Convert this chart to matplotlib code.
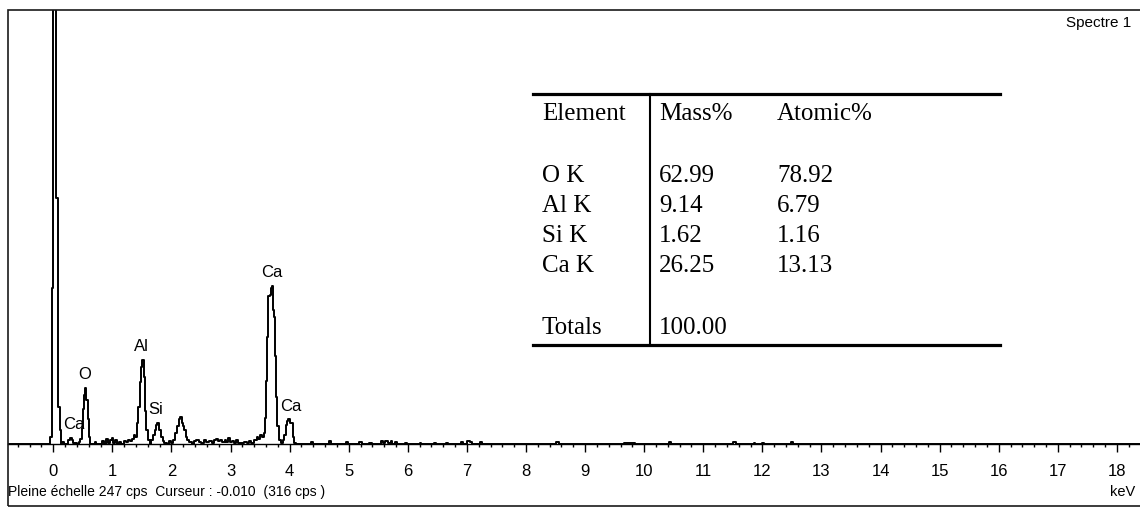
import numpy as np
import matplotlib
matplotlib.use('Agg')
from matplotlib import pyplot as plt
from matplotlib.lines import Line2D
from matplotlib.patches import Rectangle
from matplotlib.ticker import MultipleLocator

# spectrum vertices (keV, cps), drawn as a step trace
energy_kev = [-0.775, -0.06, -0.03, -0.01, 0.045, 0.085, 0.11, 0.13,
              0.15, 0.18, 0.25, 0.28, 0.32, 0.34, 0.40, 0.43, 0.46,
              0.48, 0.50, 0.52, 0.54, 0.56, 0.58, 0.60, 0.62,
              0.70, 0.73, 0.82, 0.85, 0.90, 0.92, 0.96, 0.99, 1.01, 1.04, 1.07,
              1.12, 1.15, 1.20, 1.23, 1.27, 1.30, 1.33, 1.36, 1.39,
              1.41, 1.43, 1.46, 1.48, 1.50, 1.53, 1.55, 1.57, 1.60, 1.63,
              1.66, 1.69, 1.72, 1.74, 1.76, 1.79, 1.82, 1.85, 1.88, 1.92, 1.96, 1.99,
              2.03, 2.06, 2.09, 2.12, 2.15, 2.17, 2.19, 2.21, 2.24, 2.27, 2.30, 2.34,
              2.38, 2.42, 2.46, 2.50, 2.55, 2.58, 2.63, 2.68, 2.72, 2.75, 2.78,
              2.82, 2.86, 2.90, 2.93, 2.96, 2.99, 3.02, 3.06, 3.10, 3.13, 3.18,
              3.22, 3.27, 3.31, 3.35, 3.40, 3.44, 3.47, 3.50, 3.53,
              3.56, 3.58, 3.60, 3.62, 3.64, 3.66, 3.69, 3.70, 3.71, 3.73, 3.75,
              3.77, 3.79, 3.82, 3.86, 3.89,
              3.91, 3.93, 3.95, 3.98, 4.00, 4.03, 4.05, 4.08, 4.11,
              4.36, 4.39, 4.67, 4.70, 4.95, 4.98, 5.18, 5.22, 5.35, 5.40,
              5.55, 5.58, 5.62, 5.66, 5.71, 5.74, 5.78, 5.81, 5.95, 5.98,
              6.20, 6.23, 6.45, 6.48, 6.65, 6.68, 6.90, 6.93, 7.00, 7.06, 7.09,
              7.22, 7.26, 8.50, 8.56, 9.66, 9.85, 10.42, 10.46, 11.50, 11.55,
              11.85, 11.88, 12.00, 12.03, 12.48, 12.52, 18.39]
counts_cps = [0, 4, 89, 316, 140, 21, 8, 0,
              1.3, 0, 2, 3.4, 2, 0.8, 0, 1.2, 3,
              9, 20, 28, 32, 25, 14, 4, 0,
              1.2, 0, 1.5, 0, 3, 0.8, 2, 3.4, 0.8, 2.3, 0,
              1, 0, 1.5, 1, 2.3, 1.5, 3, 5, 4,
              12, 21, 35, 44, 48, 38, 19, 8, 2, 0,
              2, 5, 8, 11, 12, 8, 4, 1.5, 0.5, 0, 1.5, 0.5,
              2.3, 6, 10, 14, 15.5, 12, 10, 8, 4, 2.3, 1, 0,
              1.5, 2.3, 1, 0.5, 2.5, 1, 1.5, 0.8, 2.3, 3, 1.5,
              2.3, 1, 2.5, 1, 3.4, 1, 1.5, 0.5, 2, 0.8, 0.5,
              1.2, 0.5, 1.7, 0.5, 2.3, 4, 2.8, 5, 4,
              6, 15, 36, 61, 84, 85, 89, 90, 76, 72, 50,
              27, 10, 2, 0.5, 2,
              5, 11, 13, 14, 12, 12, 4, 0.5, 0,
              1.2, 0, 1.7, 0, 1, 0, 1, 0, 0.8, 0,
              1.5, 0.5, 1.7, 0.5, 1.5, 0, 1.2, 0, 0.8, 0,
              0.8, 0, 0.8, 0, 0.8, 0, 1, 0, 1.7, 1, 0,
              1.3, 0, 1.2, 0, 0.8, 0, 1, 0, 1.2, 0,
              0.8, 0, 0.8, 0, 1, 0, 0]

line_names = ['Ca', 'O', 'Al', 'Si', 'Ca', 'Ca']
line_kev = [0.341, 0.525, 1.486, 1.740, 3.691, 4.012]

# quantification table
elements = ['O K', 'Al K', 'Si K', 'Ca K']
mass_pct = ['62.99', '9.14', '1.62', '26.25']
atomic_pct = ['78.92', '6.79', '1.16', '13.13']
total_mass = '100.00'

full_scale = 247
W, H = 1140, 509

sans = ['Liberation Sans', 'DejaVu Sans']
serif = ['Liberation Serif', 'DejaVu Serif']

def fx(x):
    return x / W

def fy(y):
    return 1 - y / H

fig = plt.figure(figsize=(W / 100, H / 100), dpi=100)
fig.patch.set_facecolor('white')

# axes covering the frame; baseline at 0 cps, top at full scale
ax = fig.add_axes([fx(7.5), fy(506), fx(W) - fx(7.5), fy(10) - fy(506)])
ax.set_xlim(-0.775, 18.39)
ax.set_ylim(-35.3, full_scale)
ax.patch.set_alpha(0)

ax.plot(energy_kev, counts_cps, drawstyle='steps-post', color='black', lw=1.4)

for side in ['top', 'left', 'right']:
    ax.spines[side].set_visible(False)
ax.spines['bottom'].set_position(('data', 0))
ax.spines['bottom'].set_linewidth(1.0)
ax.set_yticks([])
ax.set_xticks(range(19))
ax.set_xticklabels([str(i) for i in range(19)], family=sans, fontsize=12)
ax.xaxis.set_minor_locator(MultipleLocator(0.2))
ax.tick_params(axis='x', which='major', direction='out', length=5.5, width=1, pad=9)
ax.tick_params(axis='x', which='minor', direction='out', length=2.5, width=1)

# peak labels above the local maximum of the trace
e = np.array(energy_kev)
c = np.array(counts_cps)
for name, kev in zip(line_names, line_kev):
    top = c[np.abs(e - kev) < 0.07].max()
    ax.annotate(name, (kev, top), xytext=(0, 9.5), textcoords='offset points',
                ha='center', va='center', family=sans, fontsize=12)

# outer frame, right side runs off the edge
fig.patches.append(Rectangle((fx(7.5), fy(506)), 1.0, fy(10) - fy(506),
                             transform=fig.transFigure, fill=False,
                             edgecolor='#1a1a1a', lw=1.2))

fig.text(fx(1131), fy(23), 'Spectre 1', ha='right', va='center', family=sans, fontsize=11)
fig.text(fx(8), fy(492), 'Pleine échelle 247 cps  Curseur : -0.010  (316 cps )',
         ha='left', va='center', family=sans, fontsize=10)
fig.text(fx(1135), fy(492), 'keV', ha='right', va='center', family=sans, fontsize=10.5)

# table inset
tx = [542, 659, 777]
fs = 18
fig.text(fx(tx[0]), fy(120), 'Element', family=serif, fontsize=fs, va='baseline')
fig.text(fx(tx[1]), fy(120), 'Mass%', family=serif, fontsize=fs, va='baseline')
fig.text(fx(tx[2]), fy(120), 'Atomic%', family=serif, fontsize=fs, va='baseline')
for i, (el, m, a) in enumerate(zip(elements, mass_pct, atomic_pct)):
    yb = 182 + 30 * i
    fig.text(fx(tx[0]), fy(yb), el, family=serif, fontsize=fs, va='baseline')
    fig.text(fx(tx[1]), fy(yb), m, family=serif, fontsize=fs, va='baseline')
    fig.text(fx(tx[2]), fy(yb), a, family=serif, fontsize=fs, va='baseline')
fig.text(fx(tx[0]), fy(334), 'Totals', family=serif, fontsize=fs, va='baseline')
fig.text(fx(tx[1]), fy(334), total_mass, family=serif, fontsize=fs, va='baseline')

for yl in [94, 345]:
    fig.add_artist(Line2D([fx(533), fx(1000)], [fy(yl), fy(yl)], color='black', lw=2.3))
fig.add_artist(Line2D([fx(650), fx(650)], [fy(94), fy(345)], color='black', lw=1.5))

fig.savefig('out.png', dpi=100)
plt.close(fig)
